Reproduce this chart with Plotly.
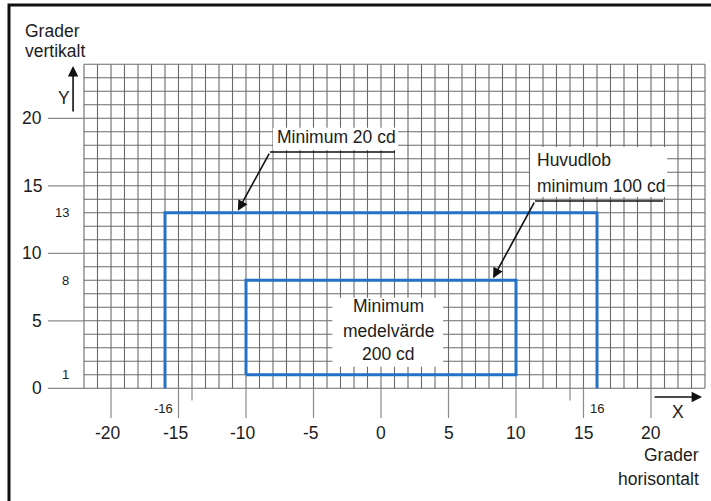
import plotly.graph_objects as go

# axis values, degrees
x_major = [-20, -15, -10, -5, 0, 5, 10, 15, 20]
y_major = [0, 5, 10, 15, 20]
x_marks = [-16, 16]
x_short = [-14, 14]
y_marks = [1, 8, 13]
grid_x = list(range(-22, 25))
grid_y = list(range(0, 25))

# zones
outer_x = [-16, -16, 16, 16]
outer_y = [0, 13, 13, 0]
inner_x = [-10, 10, 10, -10, -10]
inner_y = [1, 1, 8, 8, 1]

FONT = "Liberation Sans, Arial, sans-serif"
BLUE = "#2472c8"
GRID = "#6a6a6a"

fig = go.Figure()

# 1-degree grid
gx, gy = [], []
for v in grid_x:
    gx += [v, v, None]
    gy += [grid_y[0], grid_y[-1], None]
for h in grid_y:
    gx += [grid_x[0], grid_x[-1], None]
    gy += [h, h, None]
fig.add_trace(go.Scatter(x=gx, y=gy, mode="lines", line=dict(color=GRID, width=1.1),
                         hoverinfo="skip", showlegend=False))

# tick lines outside the grid
tx, ty = [], []
for h in y_major:
    tx += [-24.67, grid_x[0], None]
    ty += [h, h, None]
for v in x_major:
    tx += [v, v, None]
    ty += [0, -2.2, None]
for v in x_short:
    tx += [v, v, None]
    ty += [0, -0.9, None]
fig.add_trace(go.Scatter(x=tx, y=ty, mode="lines", line=dict(color="#8a8a8a", width=1.2),
                         hoverinfo="skip", showlegend=False))

# white label boxes
boxes = [(-8.0, 17.65, 1.26, 19.3), (11.04, 14.17, 21.19, 17.87), (-3.6, 1.6, 4.6, 6.7)]
for x0, y0, x1, y1 in boxes:
    fig.add_shape(type="rect", x0=x0, y0=y0, x1=x1, y1=y1, fillcolor="white",
                  line=dict(width=0), layer="above")

# zone outlines
fig.add_trace(go.Scatter(x=outer_x, y=outer_y, mode="lines", line=dict(color=BLUE, width=3),
                         hoverinfo="skip", showlegend=False))
fig.add_trace(go.Scatter(x=inner_x, y=inner_y, mode="lines", line=dict(color=BLUE, width=3),
                         hoverinfo="skip", showlegend=False))

# leader lines under the callouts
fig.add_trace(go.Scatter(x=[-8.22, 1.04, None, 11.41, 20.89], y=[17.5, 17.5, None, 13.87, 13.87],
                         mode="lines", line=dict(color="#111", width=1.5),
                         hoverinfo="skip", showlegend=False))

ann = []


def label(text, x, y, size=17.5, xanchor="center", xshift=0):
    ann.append(dict(text=text, x=x, y=y, xref="x", yref="y", showarrow=False,
                    xanchor=xanchor, yanchor="middle", xshift=xshift,
                    font=dict(family=FONT, size=size, color="#1c1c1c")))


for v in y_major:
    label(str(v), -24.96, v, xanchor="right")
for v in y_marks:
    label(str(v), -22.96, v, size=13, xanchor="right")
for v in x_major:
    label(str(v), v, -3.31, xshift=-3 if v < 0 else 0)
for v in x_marks:
    label(str(v), v, -1.53, size=13, xshift=-2 if v < 0 else 0)

label("Grader", -26.52, 26.5, xanchor="left")
label("vertikalt", -26.52, 24.95, xanchor="left")
label("Y", -23.48, 21.5)
label("X", 22.0, -1.75)
label("Grader", 23.7, -4.94, xanchor="right")
label("horisontalt", 23.7, -6.72, xanchor="right")
label("Minimum 20 cd", -3.33, 18.61)
label("Huvudlob", 11.41, 16.92, xanchor="left")
label("minimum 100 cd", 11.41, 14.99, xanchor="left")
label("Minimum", 0.52, 6.1)
label("medelvärde", 0.52, 4.24)
label("200 cd", 0.52, 2.54)


def arrow(x0, y0, x1, y1, size=1.3):
    ann.append(dict(text="", x=x1, y=y1, ax=x0, ay=y0, xref="x", yref="y", axref="x", ayref="y",
                    showarrow=True, arrowhead=2, arrowsize=size, arrowwidth=1.6, arrowcolor="#111"))


arrow(-8.22, 17.5, -10.6, 13.15)
arrow(11.41, 13.87, 8.3, 8.15)
arrow(-22.81, 20.39, -22.81, 23.87)
arrow(20.15, -0.64, 23.78, -0.64)

# frame of the picture
fig.add_shape(type="rect", xref="paper", yref="paper", x0=9 / 711, x1=1.05, y0=-0.05, y1=1 - 5 / 501,
              line=dict(color="#111", width=3), layer="above")

fig.update_layout(
    width=711, height=501,
    margin=dict(l=0, r=0, t=0, b=0),
    paper_bgcolor="white", plot_bgcolor="white",
    annotations=ann,
    xaxis=dict(range=[-381 / 13.5, 330 / 13.5], visible=False, fixedrange=True),
    yaxis=dict(range=[(388.3 - 501) / 13.5, 388.3 / 13.5], visible=False, fixedrange=True),
)

fig.write_html("out.html", config={"displayModeBar": False},
               post_script="document.body.style.margin='0';")
